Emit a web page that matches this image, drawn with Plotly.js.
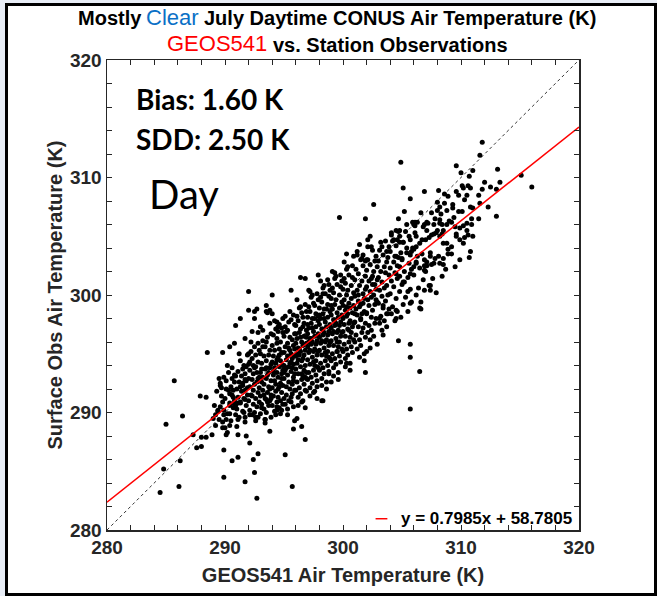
<!DOCTYPE html>
<html><head><meta charset="utf-8">
<script src="https://cdn.plot.ly/plotly-3.0.1.min.js"></script>
<style>
html,body{margin:0;padding:0;background:#e9eef7;width:657px;height:596px;overflow:hidden;}
#frame{position:absolute;left:5px;top:3px;width:652px;height:593px;box-sizing:border-box;border:3px solid #000;background:#fff;}
#chart{position:absolute;left:0;top:0;width:657px;height:596px;}
</style></head><body><div id="frame"></div><div id="chart"></div>
<script>
// Axis range (K) and tick labels
const axisRange = [280, 320];
const tickVals = [280, 290, 300, 310, 320];
// Fit and statistics shown on the chart
const fitSlope = 0.7985;
const fitIntercept = 58.7805;
const biasK = 1.60;
const sddK = 2.50;

// [GEOS541 air temperature, station observed air temperature] (K)
const coreLow = [
[289.1,290.6],[289.3,291.8],[289.5,289.4],[289.6,292.3],[289.8,290.9],[289.9,293.0],[289.2,288.9],[289.4,290.2],[289.7,291.4],[289.9,289.8],[289.5,292.9],[289.8,288.7],
[290.0,291.2],[290.1,292.7],[290.2,289.9],[290.3,291.9],[290.3,293.4],[290.4,290.8],[290.5,292.2],[290.5,289.3],[290.6,291.5],[290.6,293.8],[290.7,290.4],[290.8,292.6],[290.8,291.0],[290.9,289.8],[290.9,293.1],[290.2,294.0],[290.4,288.9],[290.7,291.9],[290.9,290.6],[290.6,292.9],
[291.0,292.0],[291.0,290.3],[291.1,293.5],[291.1,291.3],[291.2,289.6],[291.2,292.6],[291.3,294.4],[291.3,290.9],[291.4,291.8],[291.4,293.1],[291.5,290.1],[291.5,292.3],[291.6,294.0],[291.6,291.2],[291.7,289.2],[291.7,293.3],[291.7,291.9],[291.8,290.6],[291.8,292.7],[291.9,294.9],[291.9,291.5],[291.2,295.0],[291.5,293.7],[291.3,292.2],[291.8,293.9],[291.6,290.0],[291.9,292.1],[291.1,290.8],
[292.0,292.9],[292.0,291.0],[292.0,294.1],[292.1,290.2],[292.1,292.2],[292.1,293.6],[292.2,295.2],[292.2,291.5],[292.3,289.8],[292.3,292.8],[292.3,294.6],[292.4,291.9],[292.4,290.7],[292.4,293.3],[292.5,295.6],[292.5,292.4],[292.5,290.0],[292.6,293.9],[292.6,291.2],[292.6,294.9],[292.7,292.6],[292.7,290.5],[292.7,293.4],[292.8,291.7],[292.8,294.3],[292.8,289.6],[292.9,292.1],[292.9,295.3],[292.9,293.0],[292.2,296.0],[292.4,294.0],[292.6,289.3],[292.8,292.9],[292.3,291.4],[292.9,290.9],
[293.0,293.4],[293.0,291.4],[293.0,295.0],[293.0,289.9],[293.1,292.6],[293.1,294.2],[293.1,290.7],[293.2,296.1],[293.2,293.0],[293.2,291.9],[293.3,294.8],[293.3,290.3],[293.3,292.4],[293.4,293.7],[293.4,295.6],[293.4,291.2],[293.5,292.9],[293.5,294.4],[293.5,290.0],[293.6,293.2],[293.6,296.4],[293.6,291.7],[293.7,294.9],[293.7,292.2],[293.7,290.6],[293.8,293.8],[293.8,295.3],[293.8,291.0],[293.9,292.7],[293.9,294.1],[293.9,289.6],[293.2,297.0],[293.4,289.4],[293.5,296.0],[293.6,290.9],[293.8,292.0],[293.9,296.7],[293.1,293.7],[293.3,291.5],[293.7,293.4],[293.9,291.5],[293.5,293.8]
];
const coreMid = [
[294.0,294.3],[294.0,292.1],[294.0,295.7],[294.0,290.6],[294.1,293.2],[294.1,296.6],[294.1,291.4],[294.1,294.8],[294.2,292.7],[294.2,290.1],[294.2,295.3],[294.2,293.8],[294.3,291.8],[294.3,297.1],[294.3,294.2],[294.3,292.4],[294.4,295.9],[294.4,290.9],[294.4,293.4],[294.4,296.3],[294.5,292.0],[294.5,294.7],[294.5,291.3],[294.5,293.0],[294.6,295.4],[294.6,290.4],[294.6,293.9],[294.6,297.5],[294.7,292.5],[294.7,294.4],[294.7,291.0],[294.7,296.0],[294.8,293.3],[294.8,295.1],[294.8,291.7],[294.8,292.9],[294.9,294.0],[294.9,296.8],[294.9,290.7],[294.9,293.6],[294.2,297.8],[294.3,289.8],[294.5,296.9],[294.6,292.2],[294.7,289.9],[294.8,297.2],[294.1,293.5],[294.4,294.5],[294.6,294.9],[294.9,292.3],
[295.0,295.1],[295.0,292.9],[295.0,296.5],[295.0,291.2],[295.0,294.0],[295.1,297.3],[295.1,293.6],[295.1,290.7],[295.1,295.6],[295.2,292.2],[295.2,294.5],[295.2,296.9],[295.2,291.5],[295.3,293.2],[295.3,295.9],[295.3,290.3],[295.3,294.8],[295.4,292.6],[295.4,297.7],[295.4,293.9],[295.4,291.0],[295.5,295.3],[295.5,292.0],[295.5,296.4],[295.5,294.2],[295.6,290.9],[295.6,293.5],[295.6,297.9],[295.6,295.0],[295.7,292.4],[295.7,294.6],[295.7,296.2],[295.7,291.6],[295.8,293.0],[295.8,295.7],[295.8,298.3],[295.8,294.1],[295.9,291.9],[295.9,296.7],[295.9,293.3],[295.9,295.4],[295.1,298.2],[295.3,289.8],[295.5,298.6],[295.6,291.3],[295.8,290.5],[295.9,297.5],[295.2,293.8],[295.4,295.5],[295.6,294.3],[295.7,293.8],[295.8,292.7],[295.3,297.0],[295.0,293.4],[295.9,294.8],
[296.0,295.9],[296.0,293.7],[296.0,297.4],[296.0,291.9],[296.0,294.8],[296.1,298.2],[296.1,292.6],[296.1,296.3],[296.1,294.2],[296.2,291.3],[296.2,295.5],[296.2,297.8],[296.2,293.3],[296.3,294.9],[296.3,292.1],[296.3,296.8],[296.3,298.9],[296.4,293.9],[296.4,295.2],[296.4,291.6],[296.4,297.1],[296.5,294.4],[296.5,292.8],[296.5,296.0],[296.5,298.5],[296.6,293.1],[296.6,295.7],[296.6,291.0],[296.6,294.6],[296.7,297.6],[296.7,292.4],[296.7,296.5],[296.7,293.6],[296.8,295.3],[296.8,299.2],[296.8,291.9],[296.8,294.0],[296.9,297.0],[296.9,292.9],[296.9,295.9],[296.9,293.4],[296.1,299.6],[296.2,290.6],[296.4,299.0],[296.5,290.9],[296.6,298.1],[296.8,290.4],[296.9,298.6],[296.3,295.4],[296.5,293.3],[296.7,294.9],[296.9,296.4],[296.0,296.7],[296.2,294.5],[296.4,296.4],[296.6,297.3],[296.8,293.0],[296.1,295.0],
[297.0,296.7],[297.0,294.5],[297.0,298.1],[297.0,292.8],[297.0,295.6],[297.1,299.0],[297.1,293.4],[297.1,297.2],[297.1,295.1],[297.2,292.1],[297.2,296.3],[297.2,298.6],[297.2,294.1],[297.3,295.8],[297.3,293.0],[297.3,297.6],[297.3,299.8],[297.4,294.7],[297.4,296.0],[297.4,292.5],[297.4,298.0],[297.5,295.2],[297.5,293.6],[297.5,296.9],[297.5,299.3],[297.6,294.0],[297.6,296.5],[297.6,291.8],[297.6,295.4],[297.7,298.4],[297.7,293.2],[297.7,297.3],[297.7,294.4],[297.8,296.1],[297.8,300.1],[297.8,292.7],[297.8,294.9],[297.9,297.8],[297.9,293.8],[297.9,296.7],[297.9,295.2],[297.1,300.4],[297.2,291.4],[297.4,300.0],[297.5,291.7],[297.6,299.1],[297.8,291.2],[297.9,299.6],[297.3,296.3],[297.5,294.3],[297.7,295.8],[297.9,298.2],[297.0,297.5],[297.2,295.3],[297.4,297.2],[297.6,298.0],[297.8,293.9],[297.1,296.0]
];
const coreHigh = [
[298.0,297.5],[298.0,295.3],[298.0,298.9],[298.0,293.6],[298.0,296.4],[298.1,299.8],[298.1,294.2],[298.1,298.0],[298.1,295.9],[298.2,292.9],[298.2,297.1],[298.2,299.4],[298.2,294.9],[298.3,296.6],[298.3,293.8],[298.3,298.4],[298.3,300.6],[298.4,295.5],[298.4,296.8],[298.4,293.3],[298.4,298.8],[298.5,296.0],[298.5,294.4],[298.5,297.7],[298.5,300.1],[298.6,294.8],[298.6,297.3],[298.6,292.6],[298.6,296.2],[298.7,299.2],[298.7,294.0],[298.7,298.1],[298.7,295.2],[298.8,296.9],[298.8,300.9],[298.8,293.5],[298.8,295.7],[298.9,298.6],[298.9,294.6],[298.9,297.5],[298.9,296.0],[298.1,301.2],[298.2,292.3],[298.4,300.8],[298.6,292.0],[298.8,299.9],[298.9,300.4],[298.3,297.1],[298.5,295.1],[298.7,296.6],[298.0,298.3],[298.2,296.1],[298.4,298.0],[298.6,298.8],[298.8,294.7],
[299.0,298.3],[299.0,296.1],[299.0,299.7],[299.0,294.4],[299.0,297.2],[299.1,300.6],[299.1,295.0],[299.1,298.8],[299.1,296.7],[299.2,293.8],[299.2,297.9],[299.2,300.2],[299.2,295.7],[299.3,297.4],[299.3,294.6],[299.3,299.2],[299.3,301.4],[299.4,296.3],[299.4,297.6],[299.4,294.1],[299.4,299.6],[299.5,296.8],[299.5,295.2],[299.5,298.5],[299.5,300.9],[299.6,295.6],[299.6,298.1],[299.6,293.4],[299.6,297.0],[299.7,300.0],[299.7,294.8],[299.7,298.9],[299.7,296.0],[299.8,297.7],[299.8,301.7],[299.8,294.3],[299.8,296.5],[299.9,299.4],[299.9,295.4],[299.9,298.3],[299.9,296.8],[299.1,302.0],[299.2,293.1],[299.4,301.6],[299.6,292.8],[299.8,300.7],[299.9,301.2],[299.3,297.9],[299.5,296.0],[299.7,297.4],[299.0,299.1],[299.2,296.9],
[300.0,299.1],[300.0,296.9],[300.0,300.5],[300.0,295.2],[300.0,298.0],[300.1,301.4],[300.1,295.8],[300.1,299.6],[300.1,297.5],[300.2,294.6],[300.2,298.7],[300.2,301.0],[300.2,296.5],[300.3,298.2],[300.3,295.4],[300.3,300.0],[300.3,302.2],[300.4,297.1],[300.4,298.4],[300.4,294.9],[300.4,300.4],[300.5,297.6],[300.5,296.0],[300.5,299.3],[300.5,301.7],[300.6,296.4],[300.6,298.9],[300.6,294.2],[300.6,297.8],[300.7,300.8],[300.7,295.6],[300.7,299.7],[300.7,296.8],[300.8,298.5],[300.8,302.5],[300.8,295.1],[300.8,297.3],[300.9,300.2],[300.9,296.2],[300.9,299.1],[300.9,297.6],[300.1,302.8],[300.2,293.9],[300.4,302.4],[300.6,293.6],[300.8,301.5],[300.3,299.0],[300.5,297.0],
[301.0,299.9],[301.0,297.7],[301.0,301.3],[301.0,296.0],[301.1,298.8],[301.1,302.2],[301.1,296.6],[301.2,300.4],[301.2,298.3],[301.2,295.4],[301.3,299.5],[301.3,301.8],[301.3,297.3],[301.4,299.0],[301.4,296.2],[301.4,300.8],[301.5,303.0],[301.5,297.9],[301.5,299.2],[301.5,295.7],[301.6,301.2],[301.6,298.4],[301.6,296.8],[301.7,300.1],[301.7,302.5],[301.7,297.2],[301.8,299.7],[301.8,295.0],[301.8,298.6],[301.9,301.6],[301.9,296.4],[301.9,300.5],[301.9,297.6],[301.2,303.4],[301.4,294.7],[301.6,303.1],[301.8,294.4],[301.3,300.0],[301.5,298.0],[301.7,299.3],[301.0,298.4],[301.9,302.9]
];
const coreTop = [
[302.0,300.7],[302.0,298.5],[302.0,302.1],[302.1,296.8],[302.1,299.6],[302.1,303.0],[302.2,297.4],[302.2,301.2],[302.2,299.1],[302.3,296.2],[302.3,300.3],[302.3,302.6],[302.4,298.1],[302.4,299.8],[302.4,297.0],[302.5,301.6],[302.5,303.8],[302.5,298.7],[302.6,300.0],[302.6,296.5],[302.6,302.0],[302.7,299.2],[302.7,297.6],[302.7,300.9],[302.8,303.3],[302.8,298.0],[302.8,300.5],[302.9,295.8],[302.9,299.4],[302.9,302.4],[302.1,304.1],[302.3,295.5],[302.5,300.9],[302.7,302.9],[302.9,301.3],[302.4,301.4],
[303.0,301.5],[303.0,299.3],[303.0,302.9],[303.1,297.6],[303.1,300.4],[303.1,303.8],[303.2,298.2],[303.2,302.0],[303.3,299.9],[303.3,297.0],[303.3,301.1],[303.4,303.4],[303.4,298.9],[303.5,300.6],[303.5,297.8],[303.5,302.4],[303.6,304.6],[303.6,299.5],[303.7,300.8],[303.7,297.3],[303.7,302.8],[303.8,300.0],[303.8,298.4],[303.9,301.7],[303.9,304.1],[303.9,298.8],[303.2,304.5],[303.4,296.6],[303.6,301.9],[303.8,303.2],
[304.0,302.3],[304.0,300.1],[304.0,303.7],[304.1,298.4],[304.1,301.2],[304.2,304.6],[304.2,299.0],[304.3,302.8],[304.3,300.7],[304.4,297.8],[304.4,301.9],[304.5,304.2],[304.5,299.7],[304.6,301.4],[304.6,298.6],[304.7,303.2],[304.7,305.4],[304.8,300.3],[304.8,301.6],[304.9,298.1],[304.9,303.6],[304.1,305.1],[304.4,303.3],[304.6,302.5],[304.8,304.5],
[305.0,303.1],[305.0,300.9],[305.1,304.5],[305.1,299.2],[305.2,302.0],[305.3,305.4],[305.3,299.8],[305.4,303.6],[305.5,301.5],[305.5,298.6],[305.6,302.7],[305.6,305.0],[305.7,300.5],[305.8,302.2],[305.8,299.4],[305.9,304.0],[305.9,306.2],[305.2,301.1],[305.4,306.0],[305.7,303.4],
[306.0,303.9],[306.0,301.7],[306.1,305.3],[306.2,300.0],[306.2,302.8],[306.3,306.2],[306.4,300.6],[306.5,304.4],[306.5,302.3],[306.6,299.4],[306.7,303.5],[306.8,305.8],[306.8,301.3],[306.9,303.0],[306.3,303.3],[306.6,307.0],
[307.0,304.7],[307.1,302.5],[307.2,306.1],[307.3,300.8],[307.4,303.6],[307.5,307.0],[307.6,301.4],[307.7,305.2],[307.8,303.1],[307.9,300.2],[307.3,304.9],[307.8,306.5],
[308.0,305.5],[308.1,303.3],[308.3,306.9],[308.4,301.6],[308.5,304.4],[308.6,307.8],[308.7,302.2],[308.8,306.0],[308.9,303.9],[308.4,305.2],
[309.0,306.3],[309.2,304.1],[309.3,307.7],[309.5,302.4],[309.6,305.2],[309.8,308.5],[309.9,303.0],[309.4,306.6],
[310.1,307.1],[310.3,304.9],[310.5,308.5],[310.7,303.2],[310.9,306.0],[310.6,309.3]
];
const scatteredLow = [
[288.5,295.1],[285.7,292.7],[289.8,295.1],[287.9,291.4],[288.4,291.3],[286.4,289.7],[285.0,289.0],[287.3,288.1],[288.0,287.9],[288.4,287.9],[288.9,288.1],[287.6,287.0],[288.0,287.1],[286.2,285.9],[284.8,285.2],[284.5,283.2],[286.1,283.7],[289.9,286.8],[290.6,285.9],[291.1,286.2],[289.9,284.5],[291.7,284.1],[292.7,282.7],[292.4,286.0],[292.8,286.5],[292.5,284.9],[295.1,286.4],[295.7,283.7],[292.1,287.4],[291.8,288.0],[291.1,288.1],[290.1,288.1],[290.2,288.3],[290.0,288.7],[291.0,288.8],[289.8,289.2],[290.4,289.9],[290.1,289.4],[289.2,289.8],[289.4,290.1],[289.0,289.5],[289.6,290.5],[289.9,290.2],[290.4,290.6],[290.8,290.7],[291.3,290.8],[291.7,291.1],[291.1,289.4],[291.7,289.6],[292.1,289.8],[292.6,289.6],[293.4,289.4],[293.4,289.1],[293.8,288.4],[295.8,288.6],[296.1,289.5],[295.9,289.3],[296.5,288.8],[296.8,287.7],[298.2,291.0],[299.0,292.6],[294.4,290.2],[294.8,290.2],[294.4,290.5],[293.1,290.4],[293.5,291.1],[293.9,291.2],[289.6,292.5],[289.7,292.1],[290.1,292.0],[290.8,293.2],[291.7,292.8],[291.5,292.5],[290.4,291.6],[290.7,291.3],[292.0,295.0],[292.1,294.3],[292.5,293.8],[290.4,295.6],[290.8,295.9],[290.9,297.4],[291.3,298.0],[292.0,298.7],[292.5,298.6],[292.7,298.8],[293.5,299.1],[293.6,298.5],[294.0,298.4],[291.7,296.3],[292.3,296.9],[292.8,296.8],[292.8,295.9],[293.2,295.6],[294.4,297.7],[294.9,298.0],[294.5,297.3]
];
const scatteredMid = [
[292.0,300.3],[294.0,300.0],[292.5,298.0],[293.5,298.6],[293.8,298.7],[293.0,297.3],[293.8,297.6],[296.4,301.5],[296.8,301.4],[297.9,301.7],[299.3,301.9],[295.6,300.4],[297.2,300.3],[298.3,300.1],[298.7,301.3],[300.3,303.5],[301.2,303.7],[302.1,304.7],[303.3,304.1],[304.1,305.3],[304.6,304.7],[304.8,305.5],[306.0,306.0],[307.1,306.2],[307.7,306.0],[308.2,306.1],[307.5,305.1],[308.2,305.0],[308.8,304.4],[308.9,303.5],[308.5,302.6],[307.7,302.7],[307.1,302.8],[307.4,303.3],[306.5,298.9],[307.4,300.4],[306.9,302.1],[305.7,301.8],[304.7,296.1],[305.7,295.8],[305.7,294.7],[306.5,293.5],[305.7,290.3],[302.0,295.2],[301.9,293.4],[300.3,294.2],[299.5,295.2],[298.3,291.0],[298.8,293.3],[297.8,292.2],[296.9,291.8]
];
const scatteredHigh = [
[311.8,313.0],[311.6,311.9],[304.9,311.3],[309.6,311.0],[310.0,310.4],[310.7,310.1],[311.0,310.6],[313.1,310.7],[315.1,310.2],[316.0,309.2],[313.3,309.6],[313.0,309.0],[312.5,309.2],[312.0,309.6],[311.8,309.0],[311.5,308.5],[305.1,309.1],[306.9,308.8],[308.1,308.9],[308.6,308.6],[308.9,308.4],[310.1,309.3],[310.2,309.1],[310.8,309.1],[309.6,308.8],[310.3,308.1],[305.7,308.2],[302.6,307.7],[299.7,306.6],[301.9,306.5],[305.2,307.1],[304.7,306.5],[308.0,307.9],[308.2,307.5],[308.0,307.2],[308.8,307.2],[309.3,307.4],[309.8,307.1],[310.8,307.5],[311.0,307.4],[311.6,307.8],[312.3,307.5],[313.0,306.7],[311.5,306.5],[306.1,306.2],[306.1,305.9],[306.9,306.0],[307.1,305.5],[308.2,306.4],[308.4,306.0],[308.5,305.5],[307.9,305.3],[309.2,306.2],[309.5,305.8],[309.9,305.7],[310.2,305.9],[310.5,306.1],[310.9,306.5],[310.5,305.5],[309.6,305.0],[309.9,304.7],[310.6,305.1],[311.0,305.0],[310.8,303.7],[310.2,304.4],[309.2,303.5],[308.5,303.1],[308.2,302.7],[307.5,302.6],[307.0,302.0],[306.9,300.4],[307.4,300.8],[306.6,298.8],[304.5,305.5],[304.3,304.7],[304.8,305.0],[305.1,304.5],[305.7,304.7],[306.2,305.0],[306.7,304.7],[306.2,304.1],[305.8,303.7],[305.4,304.0],[302.3,305.0],[301.4,304.3],[302.4,304.1],[303.7,303.7],[300.9,303.3],[301.7,303.4],[302.0,303.0],[304.5,303.3],[305.0,303.0],[305.1,301.1],[304.8,302.4],[304.5,301.8],[305.5,300.3],[305.7,299.3],[304.5,298.7],[304.5,298.0],[306.9,302.5],[306.2,302.7],[306.0,302.4],[302.8,299.6],[303.4,299.1],[302.0,298.4],[303.7,298.4],[303.1,298.0]
];

const allPts = [].concat(coreLow, coreMid, coreHigh, coreTop, scatteredLow, scatteredMid, scatteredHigh);
const geosX = allPts.map(p => p[0]);
const obsY = allPts.map(p => p[1]);

const sans = 'Liberation Sans, Arial, Helvetica, sans-serif';
const cal = 'Lato, Open Sans, sans-serif';
const axisGray = '#262626';

const traces = [
  {type:'scatter', mode:'markers', x:geosX, y:obsY, marker:{color:'#000', size:5}, hoverinfo:'skip'},
  {type:'scatter', mode:'lines', x:axisRange, y:axisRange, line:{color:'#000', width:0.8, dash:'3px,3px'}, hoverinfo:'skip'},
  {type:'scatter', mode:'lines', x:axisRange, y:axisRange.map(v => fitSlope*v + fitIntercept), line:{color:'#ff0000', width:1.5}, hoverinfo:'skip'}
];

function axis(title, standoff){
  return {
    range:axisRange, tickvals:tickVals, ticktext:tickVals.map(String),
    ticks:'inside', ticklen:5, tickwidth:1, tickcolor:axisGray,
    showline:true, linecolor:axisGray, linewidth:1.5, mirror:'ticks',
    showgrid:false, zeroline:false, fixedrange:true,
    minor:{dtick:2, tick0:280, ticks:'inside', ticklen:5, tickwidth:1, tickcolor:axisGray, showgrid:false},
    tickfont:{family:sans, size:19, color:axisGray, weight:'bold'},
    title:{text:title, font:{family:sans, size:20, color:axisGray, weight:'bold'}, standoff:standoff},
    automargin:false
  };
}

const fitText = 'y = ' + fitSlope.toFixed(4) + 'x + ' + fitIntercept.toFixed(4);
const boldSans = {family:sans, size:20, color:'#000', weight:'bold'};
function note(text, x, y, xanchor, font){
  return {xref:'paper', yref:'paper', x:x, y:y, xanchor:xanchor, yanchor:'middle', showarrow:false, text:text, font:font};
}

const layout = {
  width:657, height:596,
  margin:{l:107, r:78, t:60, b:66},
  paper_bgcolor:'rgba(0,0,0,0)', plot_bgcolor:'#fff',
  showlegend:false,
  xaxis:axis('GEOS541 Air Temperature (K)', 10),
  yaxis:axis('Surface Obs Air Temperature (K)', 2),
  annotations:[
    note('Mostly', 0.0775, 1.0892, 'right', boldSans),
    note('Clear', 0.1398, 1.0906, 'center', {family:sans, size:22, color:'#0a70c6'}),
    note('July Daytime CONUS Air Temperature (K)', 0.2015, 1.0892, 'left', boldSans),
    note('GEOS541', 0.343, 1.0343, 'right', {family:sans, size:22, color:'#ff0000'}),
    note('vs. Station Observations', 0.348, 1.0328, 'left', boldSans),
    note('Bias: ' + biasK.toFixed(2) + ' K', 0.058, 0.917, 'left', {family:cal, size:28, color:'#000', weight:'bold'}),
    note('SDD: ' + sddK.toFixed(2) + ' K', 0.058, 0.832, 'left', {family:cal, size:28, color:'#000', weight:'bold'}),
    note('Day', 0.084, 0.714, 'left', {family:cal, size:40, color:'#000'}),
    note(fitText, 0.99, 0.024, 'right', {family:sans, size:17, color:'#000', weight:'bold'})
  ],
  shapes:[
    {type:'line', xref:'paper', yref:'paper', x0:0.569, x1:0.594, y0:0.024, y1:0.024, line:{color:'#ff0000', width:1.5}}
  ]
};

Plotly.newPlot('chart', traces, layout, {displayModeBar:false, staticPlot:true});
</script></body></html>
